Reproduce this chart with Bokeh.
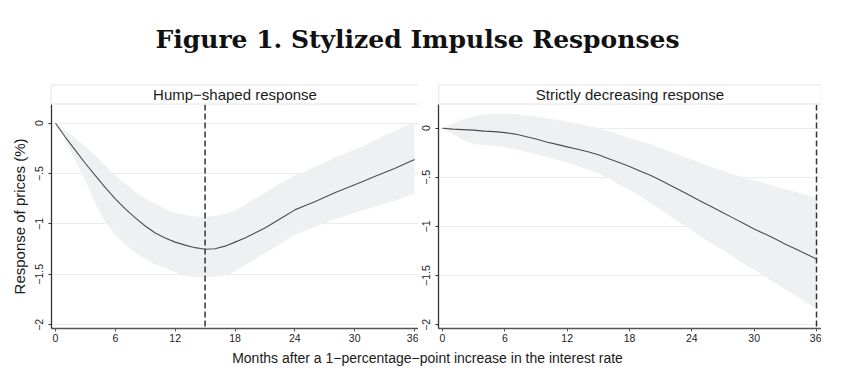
from bokeh.plotting import figure
from bokeh.models import Span, Div, FixedTicker, Range1d
from bokeh.layouts import column, row
from bokeh.embed import file_html
from bokeh.resources import INLINE

# ---------------- data ----------------
months = list(range(37))

hump_mean = [0, -0.14, -0.27, -0.40, -0.52, -0.64, -0.75, -0.85, -0.94, -1.02,
             -1.09, -1.14, -1.18, -1.21, -1.235, -1.25, -1.245, -1.22, -1.18, -1.14,
             -1.09, -1.04, -0.98, -0.92, -0.86, -0.82, -0.78, -0.735, -0.69, -0.65,
             -0.61, -0.57, -0.53, -0.49, -0.45, -0.405, -0.36]
hump_lo = [0, -0.18, -0.37, -0.57, -0.80, -0.98, -1.11, -1.21, -1.28, -1.35,
           -1.40, -1.44, -1.48, -1.51, -1.525, -1.53, -1.52, -1.51, -1.47, -1.41,
           -1.35, -1.29, -1.23, -1.17, -1.11, -1.07, -1.03, -0.99, -0.955, -0.92,
           -0.89, -0.86, -0.83, -0.80, -0.77, -0.735, -0.70]
hump_hi = [0, -0.07, -0.15, -0.23, -0.32, -0.42, -0.52, -0.60, -0.68, -0.75,
           -0.80, -0.85, -0.89, -0.91, -0.925, -0.93, -0.92, -0.90, -0.87, -0.81,
           -0.75, -0.69, -0.63, -0.57, -0.52, -0.48, -0.43, -0.39, -0.34, -0.30,
           -0.26, -0.22, -0.17, -0.12, -0.08, -0.03, 0.01]

dec_mean = [0, -0.01, -0.015, -0.02, -0.03, -0.035, -0.045, -0.06, -0.085, -0.11,
            -0.14, -0.165, -0.19, -0.215, -0.24, -0.27, -0.31, -0.35, -0.39, -0.435,
            -0.48, -0.53, -0.585, -0.64, -0.695, -0.75, -0.805, -0.86, -0.915, -0.97,
            -1.025, -1.075, -1.125, -1.18, -1.23, -1.28, -1.33]
dec_lo = [0, -0.06, -0.12, -0.16, -0.17, -0.18, -0.195, -0.215, -0.24, -0.265,
          -0.29, -0.32, -0.35, -0.385, -0.42, -0.46, -0.51, -0.57, -0.63, -0.69,
          -0.76, -0.83, -0.90, -0.97, -1.04, -1.11, -1.18, -1.24, -1.31, -1.38,
          -1.44, -1.51, -1.57, -1.64, -1.70, -1.77, -1.84]
dec_hi = [0, 0.05, 0.09, 0.12, 0.14, 0.15, 0.15, 0.145, 0.13, 0.12,
          0.10, 0.085, 0.065, 0.045, 0.025, 0.0, -0.03, -0.065, -0.10, -0.13,
          -0.16, -0.20, -0.24, -0.28, -0.32, -0.36, -0.40, -0.43, -0.47, -0.50,
          -0.53, -0.56, -0.59, -0.62, -0.65, -0.68, -0.71]

x_ticks = [0, 6, 12, 18, 24, 30, 36]
y_ticks = [-2, -1.5, -1, -0.5, 0]
y_tick_labels = ["\u22122", "\u22121.5", "\u22121", "\u2212.5", "0"]

panel_titles = ["Hump\u2212shaped response", "Strictly decreasing response"]
peak_months = [15, 36]
main_title = "Figure 1. Stylized Impulse Responses"
x_title = "Months after a 1\u2212percentage\u2212point increase in the interest rate"
y_title = "Response of prices (%)"

SANS = "Liberation Sans"
BAND = "#eff0f2"


def panel(title, xr, yr, fw, mean, lo, hi, vline, ylabel, margin, hpad):
    p = figure(frame_width=fw, frame_height=224,
               x_range=Range1d(*xr), y_range=Range1d(*yr),
               output_backend="svg", toolbar_location=None,
               min_border_left=0, min_border_right=0,
               min_border_top=0, min_border_bottom=0,
               background_fill_color="white", border_fill_color="white",
               outline_line_color=None, margin=margin)
    p.title.text = title
    p.title.align = "center"
    p.title.text_font = SANS
    p.title.text_font_style = "normal"
    p.title.text_font_size = "15px"
    p.title.text_color = "#1a1a1a"
    p.title.standoff = 1
    p.title.padding = (hpad, 1)
    p.title.border_line_color = "#e4e4e4"
    p.title.border_line_width = 1
    p.title.background_fill_color = "white"

    p.varea(x=months, y1=lo, y2=hi, fill_color=BAND, fill_alpha=1.0)
    p.line(months, mean, line_color="#4d4d4d", line_width=1.1)
    p.add_layout(Span(location=vline, dimension="height", line_color="#333333",
                      line_width=1.5, line_dash="6 3"))

    p.xgrid.visible = False
    p.ygrid.ticker = FixedTicker(ticks=y_ticks)
    p.ygrid.grid_line_color = "#ebebeb"
    p.ygrid.grid_line_width = 1

    xa = p.xaxis[0]
    xa.ticker = FixedTicker(ticks=x_ticks)
    xa.axis_line_color = "#555555"
    xa.axis_line_width = 1.6
    xa.major_tick_line_color = "#555555"
    xa.major_tick_out = 3
    xa.major_tick_in = 0
    xa.minor_tick_line_color = None
    xa.major_label_text_font = SANS
    xa.major_label_text_font_size = "10.5px"
    xa.major_label_text_color = "#222222"
    xa.major_label_standoff = 2

    ya = p.yaxis[0]
    ya.ticker = FixedTicker(ticks=y_ticks)
    ya.major_label_overrides = {t: l for t, l in zip(y_ticks, y_tick_labels)}
    ya.major_label_orientation = "vertical"
    ya.axis_line_color = "#333333"
    ya.axis_line_width = 1.3
    ya.major_tick_line_color = "#333333"
    ya.major_tick_out = 3
    ya.major_tick_in = 0
    ya.minor_tick_line_color = None
    ya.major_label_text_font = SANS
    ya.major_label_text_font_size = "10.5px"
    ya.major_label_text_color = "#222222"
    ya.major_label_standoff = 5
    if ylabel:
        ya.axis_label = ylabel
        ya.axis_label_text_font = SANS
        ya.axis_label_text_font_style = "normal"
        ya.axis_label_text_font_size = "15px"
        ya.axis_label_text_color = "#1a1a1a"
        ya.axis_label_standoff = 5
    return p


p1 = panel(panel_titles[0], (-0.40, 36.4), (-2.037, 0.1855), 367,
           hump_mean, hump_lo, hump_hi, peak_months[0], y_title, (0, 0, 0, 7), 102)
p2 = panel(panel_titles[1], (-0.385, 36.48), (-2.038, 0.241), 383,
           dec_mean, dec_lo, dec_hi, peak_months[1], None, (0, 0, 0, 1), 97)

title_div = Div(
    text=f'<div style="width:825px;font-family:\'DejaVu Serif\';font-weight:bold;font-size:25px;'
         f'text-align:center;line-height:25px;padding-top:22px;color:#111;">{main_title}</div>',
    width=825, height=72)
xlab_div = Div(
    text=f'<div style="width:825px;font-family:\'{SANS}\';font-size:14px;text-align:center;'
         f'line-height:14px;padding-top:2px;padding-left:20px;color:#1a1a1a;">{x_title}</div>',
    width=825, height=18)

layout = column(title_div, row(p1, p2), xlab_div)

open("out.html", "w").write(file_html(layout, INLINE))
